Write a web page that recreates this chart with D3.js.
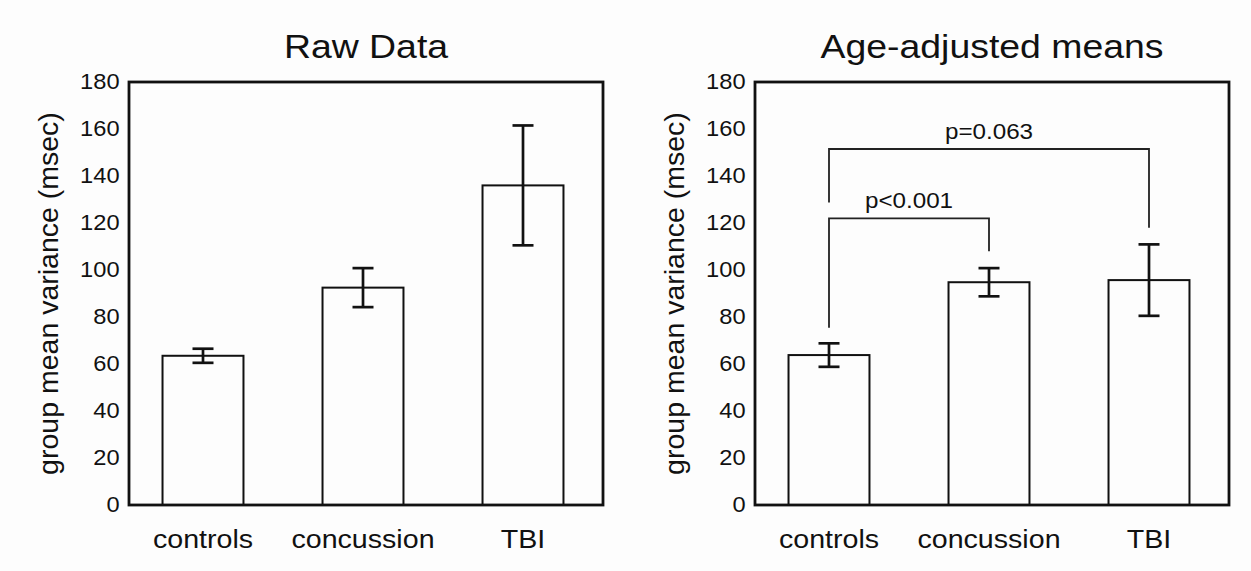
<!DOCTYPE html>
<html>
<head>
<meta charset="utf-8">
<script src="https://cdn.jsdelivr.net/npm/d3@7"></script>
<style>
  html, body { margin: 0; padding: 0; background: #fdfdfd; }
  svg { display: block; }
  text { font-family: "Liberation Sans", Arial, Helvetica, sans-serif; fill: #111; }
</style>
</head>
<body>
<svg id="chart" width="1251" height="571"></svg>
<script>
// ---- data ----
const categories = ["controls", "concussion", "TBI"];
const rawMeans = [63.5, 92.5, 136];
const rawErrors = [3, 8.3, 25.5];
const adjMeans = [63.8, 94.8, 95.7];
const adjErrors = [5, 6, 15.2];
const yTicks = [0, 20, 40, 60, 80, 100, 120, 140, 160, 180];
const panelTitles = ["Raw Data", "Age-adjusted means"];
const yAxisLabel = "group mean variance (msec)";

// significance brackets on the age-adjusted panel
const bracketFrom = ["controls", "controls"];
const bracketTo = ["concussion", "TBI"];
const bracketLevels = [122, 151.5];
const bracketLegFrom = [75.4, 128.7];
const bracketLegTo = [108, 118];
const bracketLabels = ["p<0.001", "p=0.063"];

// ---- layout ----
const panelLefts = [129, 755];
const plotW = 474, plotTop = 82, plotBottom = 505;
const stretch = "scale(1.1,1)";

const svg = d3.select("#chart");

const y = d3.scaleLinear().domain([0, 180]).range([plotBottom, plotTop]);

function drawPanel(left, title, means, errors, withBrackets) {
  const right = left + plotW;
  const x = d3.scaleBand()
    .domain(categories)
    .range([left - 6, right])
    .paddingInner(0.494)
    .paddingOuter(0.247);
  const g = svg.append("g");
  const rows = categories.map((c, i) => ({ c, m: means[i], e: errors[i] }));

  // bars
  g.selectAll("rect.bar").data(rows).join("rect")
    .attr("class", "bar")
    .attr("x", d => x(d.c))
    .attr("width", x.bandwidth())
    .attr("y", d => y(d.m))
    .attr("height", d => y(0) - y(d.m))
    .attr("fill", "#fdfdfd")
    .attr("stroke", "#111")
    .attr("stroke-width", 2);

  // error bars
  const cap = 10.5;
  const eg = g.selectAll("g.err").data(rows).join("g").attr("class", "err")
    .attr("stroke", "#111").attr("stroke-width", 2.7);
  eg.append("line")
    .attr("x1", d => x(d.c) + x.bandwidth() / 2).attr("x2", d => x(d.c) + x.bandwidth() / 2)
    .attr("y1", d => y(d.m + d.e)).attr("y2", d => y(d.m - d.e));
  eg.append("line")
    .attr("x1", d => x(d.c) + x.bandwidth() / 2 - cap).attr("x2", d => x(d.c) + x.bandwidth() / 2 + cap)
    .attr("y1", d => y(d.m + d.e)).attr("y2", d => y(d.m + d.e));
  eg.append("line")
    .attr("x1", d => x(d.c) + x.bandwidth() / 2 - cap).attr("x2", d => x(d.c) + x.bandwidth() / 2 + cap)
    .attr("y1", d => y(d.m - d.e)).attr("y2", d => y(d.m - d.e));

  // frame
  g.append("rect")
    .attr("x", left).attr("y", plotTop)
    .attr("width", plotW).attr("height", plotBottom - plotTop)
    .attr("fill", "none").attr("stroke", "#111").attr("stroke-width", 2.8);

  // y axis labels
  const ya = g.append("g").attr("transform", `translate(${left},0)`)
    .call(d3.axisLeft(y).tickValues(yTicks).tickSize(0).tickPadding(8.6));
  ya.select(".domain").remove();
  ya.selectAll("text")
    .attr("font-size", 21.5)
    .attr("transform", stretch);

  // x axis labels
  const xa = g.append("g").attr("transform", `translate(0,${plotBottom})`)
    .call(d3.axisBottom(x).tickSize(0).tickPadding(0));
  xa.select(".domain").remove();
  xa.selectAll("text")
    .attr("font-size", 26)
    .attr("dy", 0)
    .attr("y", 43)
    .attr("transform", stretch);
  svg.selectAll(".tick text").attr("fill", "#111").style("font-family", '"Liberation Sans", Arial, sans-serif');

  // title
  g.append("text")
    .attr("transform", `translate(${left + plotW / 2},58) ${stretch}`)
    .attr("text-anchor", "middle")
    .attr("font-size", 34)
    .text(title);

  // y axis title
  g.append("text")
    .attr("transform", `translate(${left - 71},${(plotTop + plotBottom) / 2}) rotate(-90)`)
    .attr("text-anchor", "middle")
    .attr("font-size", 28.5)
    .text(yAxisLabel);

  if (withBrackets) {
    const cx = c => x(c) + x.bandwidth() / 2;
    bracketLabels.forEach((lab, i) => {
      const x1 = cx(bracketFrom[i]), x2 = cx(bracketTo[i]);
      g.append("path")
        .attr("d", `M${x1},${y(bracketLegFrom[i])}V${y(bracketLevels[i])}H${x2}V${y(bracketLegTo[i])}`)
        .attr("fill", "none").attr("stroke", "#222").attr("stroke-width", 1.8);
      g.append("text")
        .attr("transform", `translate(${(x1 + x2) / 2},${y(bracketLevels[i]) - 10}) ${stretch}`)
        .attr("text-anchor", "middle")
        .attr("font-size", 22)
        .text(lab);
    });
  }
}

drawPanel(panelLefts[0], panelTitles[0], rawMeans, rawErrors, false);
drawPanel(panelLefts[1], panelTitles[1], adjMeans, adjErrors, true);
</script>
</body>
</html>
